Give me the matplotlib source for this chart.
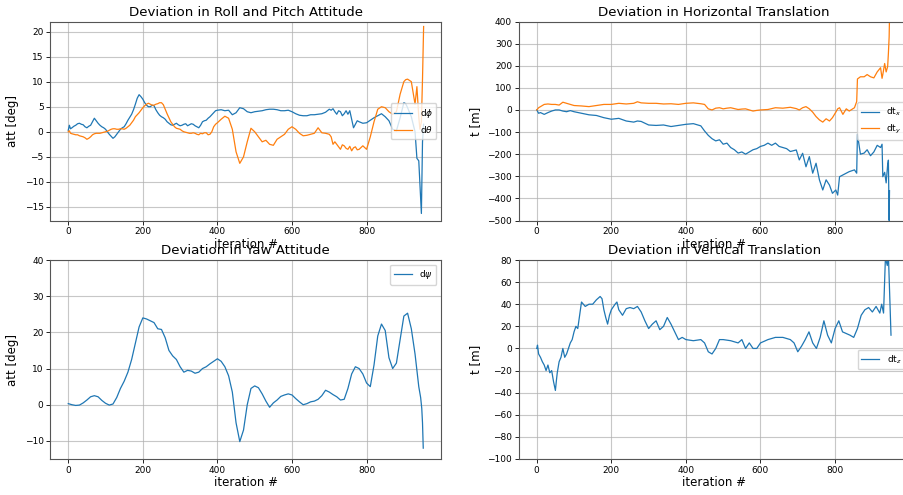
import matplotlib
matplotlib.use("Agg")
import matplotlib.pyplot as plt
import numpy as np

# ---- roll / pitch deviation [deg] ----
it_roll = [0, 3, 6, 10, 15, 20, 25, 30, 35, 40, 45, 50, 55, 60, 65, 70, 75, 80, 85, 90, 95, 100,
           105, 110, 115, 120, 125, 130, 135, 140, 145, 150, 155, 160, 165, 170, 175, 180, 185, 190,
           195, 200, 205, 210, 215, 220, 225, 230, 235, 240, 245, 250, 255, 260, 265, 270, 275, 280,
           285, 290, 295, 300, 305, 310, 315, 320, 325, 330, 335, 340, 345, 350, 355, 360, 365, 370,
           375, 380, 385, 390, 395, 400, 410, 420, 430, 440, 450, 460, 470, 480, 490, 500, 510, 520,
           530, 540, 550, 560, 570, 580, 590, 600, 610, 620, 630, 640, 650, 660, 670, 680, 690, 700,
           705, 710, 715, 720, 725, 730, 735, 740, 745, 750, 755, 760, 765, 770, 775, 780, 790, 800,
           810, 820, 830, 840, 850, 860, 870, 880, 890, 900, 905, 910, 920, 930, 935, 940, 943, 947,
           950, 953]
d_phi = [0.3, 1.3, 0.6, 0.8, 1.1, 1.3, 1.6, 1.7, 1.5, 1.4, 1.0, 0.8, 1.1, 1.3, 2.0, 2.7, 2.2,
         1.7, 1.3, 1.0, 0.8, 0.5, 0.0, -0.5, -0.9, -1.3, -1.0, -0.5, 0.0, 0.5, 0.8, 1.0, 1.6, 2.3,
         2.9, 3.5, 4.4, 5.5, 6.7, 7.4, 7.0, 6.5, 5.8, 5.3, 5.0, 5.0, 5.3, 5.2, 4.4, 3.8, 3.3, 3.0,
         2.8, 2.5, 2.0, 1.7, 1.4, 1.3, 1.5, 1.7, 1.4, 1.2, 1.3, 1.5, 1.6, 1.2, 1.4, 1.6, 1.5, 1.2,
         1.0, 0.8, 1.3, 2.0, 2.2, 2.3, 2.7, 3.0, 3.4, 3.8, 4.2, 4.3, 4.4, 4.2, 4.3, 3.4, 3.8, 4.8,
         4.6, 4.0, 3.8, 4.0, 4.1, 4.2, 4.4, 4.5, 4.5, 4.4, 4.2, 4.2, 4.3, 4.0, 3.6, 3.3, 3.2, 3.2,
         3.4, 3.4, 3.5, 3.6, 3.9, 4.5, 4.3, 4.6, 4.0, 3.5, 4.2, 4.0, 3.2, 3.6, 4.2, 3.5, 4.2, 2.5,
         0.8, 1.5, 2.2, 2.0, 1.7, 1.8, 2.3, 2.8, 3.2, 3.6, 3.0, 2.2, 0.5, 0.2, 2.8, 5.8, 5.6, 4.8,
         3.0, 0.0, -5.3, -5.8, -10.5, -16.3, -2.0, 1.5]
d_theta = [0.0, 0.2, -0.3, -0.4, -0.5, -0.6, -0.6, -0.8, -0.9, -1.0, -1.2, -1.5, -1.3, -1.0,
           -0.6, -0.4, -0.3, -0.3, -0.3, -0.2, -0.1, 0.0, 0.1, 0.3, 0.5, 0.6, 0.6, 0.5, 0.5, 0.6,
           0.6, 0.5, 0.7, 1.0, 1.3, 1.8, 2.3, 3.0, 3.4, 3.8, 4.3, 4.8, 5.2, 5.5, 5.7, 5.5, 5.3, 5.3,
           5.5, 5.6, 5.8, 5.8, 5.4, 4.5, 3.6, 2.8, 2.0, 1.5, 1.0, 0.7, 0.6, 0.5, 0.2, 0.0, -0.1,
           -0.2, -0.3, -0.3, -0.2, -0.3, -0.5, -0.6, -0.3, -0.4, -0.2, -0.2, -0.6, -0.5, 0.0, 1.0,
           1.5, 1.8, 2.5, 3.1, 2.7, 0.5, -4.0, -6.3, -5.0, -2.0, 0.7, 0.0, -1.0, -2.0, -1.7, -2.5,
           -2.7, -1.5, -1.0, -0.5, 0.5, 1.0, 0.5, -0.3, -0.8, -0.7, -0.5, -0.3, 0.8, -0.2, -0.3,
           -0.5, -1.0, -2.5, -2.0, -2.5, -3.0, -3.5, -2.6, -2.8, -3.3, -3.5, -2.9, -3.8, -3.2,
           -3.0, -3.6, -3.5, -2.8, -3.5, -1.0, 2.0, 4.5, 5.0, 4.8, 4.0, 3.5, 4.0, 7.5, 10.0, 10.4,
           10.5, 10.0, 5.5, 9.0, 3.0, 0.5, 2.0, 10.5, 21.0]

# ---- yaw deviation [deg] ----
it_yaw = [0, 10, 20, 30, 40, 50, 60, 70, 80, 90, 100, 110, 120, 130, 140, 150, 160, 170, 180,
          190, 200, 210, 220, 230, 240, 250, 260, 270, 280, 290, 300, 310, 320, 330, 340, 350,
          360, 370, 380, 390, 400, 410, 420, 430, 440, 450, 460, 470, 480, 490, 500, 510, 520,
          530, 540, 550, 560, 570, 580, 590, 600, 610, 620, 630, 640, 650, 660, 670, 680, 690,
          700, 710, 720, 730, 740, 750, 760, 770, 780, 790, 800, 810, 820, 830, 840, 850, 860,
          870, 880, 890, 900, 910, 920, 930, 940, 945, 948, 950, 952]
d_psi = [0.3, 0.0, -0.2, -0.1, 0.5, 1.3, 2.2, 2.5, 2.2, 1.2, 0.4, -0.1, 0.2, 2.0, 4.5, 6.5,
         9.0, 12.5, 17.0, 21.5, 24.0, 23.7, 23.2, 22.7, 21.0, 20.8, 18.5, 15.0, 13.5, 12.5,
         10.5, 9.0, 9.5, 9.3, 8.7, 9.0, 10.0, 10.5, 11.3, 12.0, 12.7, 12.0, 10.5, 8.0, 3.5,
         -5.0, -10.2, -7.0, 0.0, 4.5, 5.2, 4.7, 3.0, 1.0, -0.7, 0.5, 1.3, 2.3, 2.7, 3.0, 2.7,
         1.7, 0.8, 0.0, 0.3, 0.8, 1.0, 1.5, 2.5, 4.0, 3.5, 2.8, 2.2, 1.3, 1.5, 4.5, 8.5, 10.5,
         10.0, 8.5, 6.0, 5.0, 11.0, 19.0, 22.3, 20.5, 13.0, 10.0, 11.5, 18.0, 24.5, 25.3, 21.0,
         14.0, 5.0, 2.0, -1.0, -5.0, -12.0]

# ---- horizontal translation [m] ----
it_hor = [0, 5, 10, 20, 30, 40, 50, 60, 70, 80, 90, 100, 120, 140, 160, 180, 200, 220, 240,
          260, 270, 280, 300, 320, 340, 360, 380, 400, 420, 440, 450, 460, 470, 480, 490, 500,
          510, 520, 530, 540, 550, 560, 570, 580, 590, 600, 610, 620, 630, 640, 650, 660, 670,
          680, 696, 704, 713, 722, 731, 740, 749, 758, 767, 776, 785, 793, 802, 807, 812, 821,
          830, 838, 852, 858, 860, 868, 878, 886, 895, 904, 913, 922, 926, 928, 933, 937, 941,
          943, 945, 946]
dt_x = [0, -15, -12, -20, -12, -5, 0, 0, -5, -8, -3, -8, -15, -22, -25, -35, -42, -38, -50,
        -55, -50, -52, -68, -70, -68, -75, -70, -65, -62, -72, -95, -115, -130, -140, -135,
        -155, -150, -170, -180, -195, -190, -200, -190, -180, -175, -165, -160, -150, -160,
        -150, -165, -170, -175, -188, -181, -226, -196, -257, -211, -286, -241, -316, -362,
        -316, -340, -377, -362, -385, -302, -294, -286, -279, -271, -286, -110, -200, -195,
        -180, -207, -190, -160, -170, -155, -302, -282, -330, -248, -227, -500, -365]
dt_y = [0, 10, 15, 25, 27, 25, 25, 22, 35, 30, 25, 20, 18, 15, 20, 25, 25, 30, 27, 30, 37,
        32, 30, 30, 27, 28, 25, 30, 32, 28, 25, 5, 0, 8, 10, 5, 8, 10, 6, 2, 4, 5, 0, -5, -2,
        0, 1, 2, 6, 10, 9, 8, 10, 12, 6, 0, 10, 15, 5, -10, -30, -45, -55, -40, -50, -35,
        -10, 5, 10, -20, 5, -5, 10, 38, 140, 150, 150, 160, 150, 145, 172, 191, 143, 160,
        210, 172, 196, 256, 330, 420]

# ---- vertical translation [m] ----
it_ver = [0, 2, 5, 10, 15, 20, 25, 30, 35, 40, 45, 50, 53, 55, 60, 65, 70, 75, 80, 85, 90,
          95, 100, 105, 110, 115, 120, 130, 140, 150, 160, 170, 175, 180, 185, 190, 195, 200,
          210, 215, 220, 230, 240, 250, 260, 270, 280, 290, 300, 310, 320, 330, 340, 350, 360,
          370, 380, 390, 400, 420, 440, 450, 460, 470, 480, 490, 500, 520, 540, 550, 560, 570,
          580, 590, 600, 620, 640, 660, 680, 690, 700, 710, 720, 730, 740, 750, 760, 770, 780,
          790, 800, 810, 820, 840, 850, 860, 870, 880, 890, 900, 910, 920, 925, 930, 935, 940,
          943, 950]
dt_z = [0, 3, -5, -8, -12, -15, -20, -15, -22, -20, -30, -38, -28, -22, -12, -8, 0, -8, -5,
        0, 5, 8, 15, 20, 18, 30, 42, 38, 40, 40, 44, 47, 45, 35, 28, 22, 30, 35, 40, 42, 35,
        30, 36, 37, 36, 38, 33, 25, 18, 22, 25, 17, 20, 28, 22, 15, 8, 10, 8, 7, 8, 5, -3,
        -5, 0, 8, 8, 7, 5, 8, 0, 5, 0, 0, 5, 8, 10, 10, 8, 5, -3, 2, 8, 15, 5, 0, 10, 25, 12,
        5, 18, 25, 15, 12, 10, 18, 30, 35, 37, 33, 38, 32, 40, 32, 82, 75, 85, 12]

BLUE = "#1f77b4"
ORANGE = "#ff7f0e"
TICK_FS = 6.5
LABEL_FS = 8.5
TITLE_FS = 9.6

fig = plt.figure(figsize=(9.04, 4.95), dpi=100)
W, H = 904.0, 495.0


def make_axes(left, top, right, bottom):
    return fig.add_axes([left / W, 1 - bottom / H, (right - left) / W, (bottom - top) / H])


ax_rp = make_axes(50.5, 21.5, 441, 220.5)
ax_h = make_axes(519, 21.5, 909.5, 220.5)
ax_y = make_axes(50.5, 260, 441, 459)
ax_v = make_axes(519, 260, 909.5, 459)

ax_rp.plot(it_roll, d_phi, color=BLUE, lw=0.9, label=r"d$\phi$")
ax_rp.plot(it_roll, d_theta, color=ORANGE, lw=0.9, label=r"d$\theta$")
ax_rp.set_ylim(-17.7, 22.0)
ax_rp.set_yticks(np.arange(-15, 21, 5))
ax_rp.set_ylabel("att [deg]", fontsize=LABEL_FS)
ax_rp.set_title("Deviation in Roll and Pitch Attitude", fontsize=TITLE_FS, pad=4)
ax_rp.legend(loc="center right", fontsize=TICK_FS)

ax_h.plot(it_hor, dt_x, color=BLUE, lw=0.9, label=r"dt$_x$")
ax_h.plot(it_hor, dt_y, color=ORANGE, lw=0.9, label=r"dt$_y$")
ax_h.set_ylim(-500, 400)
ax_h.set_yticks(np.arange(-500, 401, 100))
ax_h.set_ylabel("t [m]", fontsize=LABEL_FS)
ax_h.set_title("Deviation in Horizontal Translation", fontsize=TITLE_FS, pad=4)
ax_h.legend(loc="center right", fontsize=TICK_FS)

ax_y.plot(it_yaw, d_psi, color=BLUE, lw=0.9, label=r"d$\psi$")
ax_y.set_ylim(-15, 40)
ax_y.set_yticks(np.arange(-10, 41, 10))
ax_y.set_ylabel("att [deg]", fontsize=LABEL_FS)
ax_y.set_title("Deviation in Yaw Attitude", fontsize=TITLE_FS, pad=4)
ax_y.legend(loc="upper right", fontsize=TICK_FS)

ax_v.plot(it_ver, dt_z, color=BLUE, lw=0.9, label=r"dt$_z$")
ax_v.set_ylim(-100, 80)
ax_v.set_yticks(np.arange(-100, 81, 20))
ax_v.set_ylabel("t [m]", fontsize=LABEL_FS)
ax_v.set_title("Deviation in Vertical Translation", fontsize=TITLE_FS, pad=4)
ax_v.legend(loc="center right", fontsize=TICK_FS)

for ax in (ax_rp, ax_h, ax_y, ax_v):
    ax.set_xlim(-47.6, 999.6)
    ax.set_xticks([0, 200, 400, 600, 800])
    ax.set_xlabel("iteration #", fontsize=LABEL_FS, labelpad=1)
    ax.tick_params(labelsize=TICK_FS, length=3, width=0.6, pad=2)
    ax.grid(True, color="#b0b0b0", lw=0.8, alpha=0.7)
    for sp in ax.spines.values():
        sp.set_color("#555555")
        sp.set_linewidth(0.8)

fig.savefig("out.png", dpi=100)
